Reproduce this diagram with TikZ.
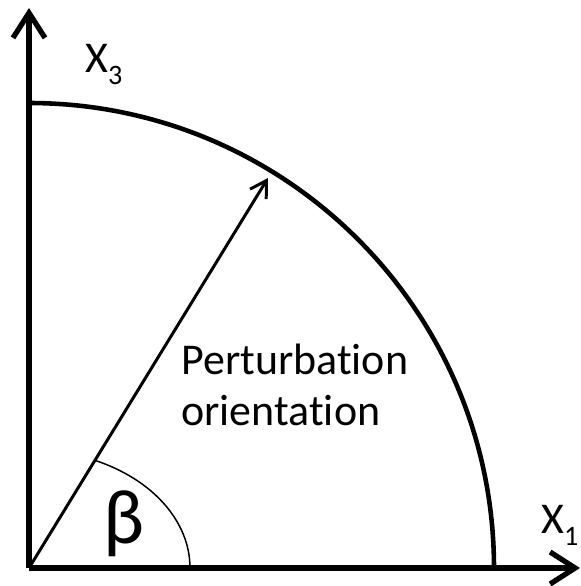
\documentclass[tikz,border=0pt]{standalone}
\usepackage{fontspec}
\setmainfont[Ligatures=NoCommon]{Carlito}
\usepackage{tikz}
\usetikzlibrary{arrows.meta,positioning}
\newcommand{\axsub}[1]{\raisebox{-7pt}{\fontsize{16pt}{16pt}\selectfont #1}}

\begin{document}
\begin{tikzpicture}[
    x=0.02cm, y=0.02cm,
    every node/.style={font=\fontsize{25pt}{28.5pt}\selectfont, inner sep=0pt},
    axis/.style={line width=3pt, -{Straight Barb[length=0.5cm, width=0.64cm]}},
    vector/.style={line width=1.7pt, -{Straight Barb[length=0.32cm, width=0.38cm]}}
]
\useasboundingbox (-29,-18) rectangle (552,568);

% Axes
\coordinate (O) at (0,0);
\coordinate (x1end) at (551,0);
\coordinate (x3end) at (0,560);
\draw [axis] (O) -- (x1end);
\draw [axis] (O) -- (x3end);
\node (x1) [anchor=base west] at (512,35) {X\axsub{1}};
\node (x3) [anchor=base west] at (56,496) {X\axsub{3}};

% Quarter circle
\draw [line width=2.6pt] (465,0) arc [start angle=0, end angle=90, radius=465];

% Perturbation vector and angle
\coordinate (tip) at (239,390);
\draw [vector] (O) -- (tip);
\draw [line width=0.85pt] (161,0) arc [start angle=0, end angle=65.8, x radius=161, y radius=118];
\node (beta) [anchor=base west, font=\fontsize{44pt}{44pt}\selectfont] at (74,25) {β};
\node (label) [anchor=base west, align=left] at (152,143) {Perturbation\\orientation};
\end{tikzpicture}
\end{document}
